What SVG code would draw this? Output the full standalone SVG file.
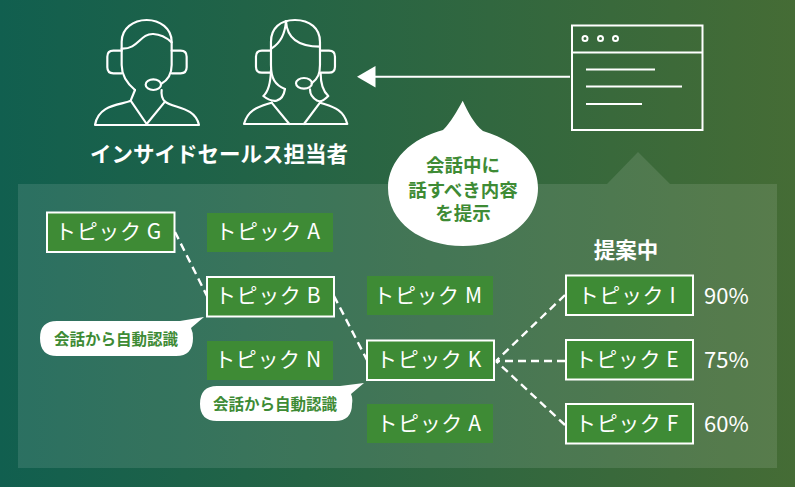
<svg xmlns="http://www.w3.org/2000/svg" width="795" height="487" viewBox="0 0 795 487">
<style>
text{font-family:"Noto Sans CJK JP","Noto Sans",sans-serif}
.ic{fill:none;stroke:#fff;stroke-width:6.500;stroke-linejoin:round;stroke-linecap:round}
.ln{fill:none;stroke:#fff;stroke-width:2}
.t{fill:#3e8b35}
.s{fill:#3e8b35;stroke:#fff;stroke-width:2}
.tl{fill:#fff;font-size:21px;text-anchor:middle;letter-spacing:.6px}
.p{fill:#fff;font-size:22px}
.g{fill:#3e8b35;font-weight:700;text-anchor:middle}
.d{fill:none;stroke:#fff;stroke-width:2.400;stroke-dasharray:8 5}
</style>
<defs>
<linearGradient id="bg" x1="0" y1="0" x2="1" y2="0"><stop offset="0" stop-color="#115f4f"/><stop offset="1" stop-color="#456c35"/></linearGradient>
</defs>
<rect width="795" height="487" fill="url(#bg)"/>
<path d="M18 184H607L638 152L670 184H777V468H18Z" fill="#fff" fill-opacity=".11"/>

<g id="agent-male" transform="translate(80 10) scale(.3333)" class="ic">
<path d="M165 240C135 215 125 190 125 165V95C125 55 160 30 200 30C240 30 275 55 275 95V165C275 190 265 210 243 222"/>
<path d="M125 116C175 118 180 70 220 72C245 73 262 85 275 97"/>
<path d="M125 122H100Q82 122 82 140V172Q82 190 100 190H125M275 122H302Q320 122 320 140V172Q320 190 302 190H275"/>
<ellipse cx="220" cy="224" rx="23" ry="16"/>
<path d="M165 240L152 272C130 285 55 280 45 345H357C345 290 280 295 255 275C245 265 243 255 245 240"/>
<path d="M152 272L200 342L255 275"/>
</g>
<g id="agent-female" transform="translate(80 10) scale(.3333)" class="ic">
<path d="M615 237C585 225 573 205 573 165V95C573 55 600 30 645 30C690 30 720 55 720 95V165C720 190 715 205 695 220"/>
<path d="M618 33C620 70 640 110 720 110M618 33C615 75 600 100 575 115"/>
<path d="M573 122H546Q528 122 528 140V170Q528 188 546 188H573M720 122H747Q765 122 765 140V170Q765 188 747 188H720"/>
<ellipse cx="672" cy="220" rx="24" ry="16"/>
<path d="M573 180C572 215 565 245 550 258C565 270 575 275 590 272C605 268 612 255 615 237M722 190C722 225 730 245 745 258C735 268 722 278 712 272C698 265 690 255 690 238"/>
<path d="M575 278C540 290 505 295 492 342H802C790 295 755 290 720 278"/>
<path d="M575 278L628 342M720 278L672 342"/>
</g>
<text id="title" x="219" y="162" fill="#fff" font-size="21.500" font-weight="700" text-anchor="middle">インサイドセールス担当者</text>

<g id="browser">
<rect x="572" y="25.500" width="130.500" height="104.500" class="ln"/>
<path d="M572 52.500H702.500" class="ln"/>
<circle cx="585" cy="38.500" r="2.500" class="ln"/><circle cx="600.500" cy="38.500" r="2.500" class="ln"/><circle cx="615.500" cy="38.500" r="2.500" class="ln"/>
<path d="M586 69.500H655M586 86.500H682M586 104H642" class="ln"/>
</g>

<g id="bubble">
<path d="M462.700 100.700C468 112 474 124 483 131C515 141 538 160 538 188C538 222 505 246 463 246C421 246 388 222 388 188C388 160 412 138 443 130C451 122 457 111 462.700 100.700Z" fill="#fff"/>
<text class="g" x="463" y="172" font-size="18.500">会話中に</text>
<text class="g" x="463" y="196.500" font-size="18.500">話すべき内容</text>
<text class="g" x="463" y="220" font-size="18.500">を提示</text>
</g>

<g id="connectors">
<path class="ln" d="M570 76.700H374"/>
<path d="M357 76.700L375.500 66V87.500Z" fill="#fff"/>
<path class="d" d="M175 232L207 296"/>
<path class="d" d="M334 296L367 360"/>
<path class="d" d="M565 295L496 361"/>
<path class="d" d="M565 361H496"/>
<path class="d" d="M565 425L496 361"/>
</g>

<g id="topic-g"><rect class="s" x="47" y="212.500" width="127.500" height="39.500"/><text class="tl" x="108.500" y="239">トピック G</text></g>
<g id="topic-a1"><rect class="t" x="207" y="213" width="126" height="39"/><text class="tl" x="268" y="239">トピック A</text></g>
<g id="topic-b"><rect class="s" x="207" y="277" width="127" height="39.500"/><text class="tl" x="268" y="303">トピック B</text></g>
<g id="topic-m"><rect class="t" x="367" y="276" width="126" height="39"/><text class="tl" x="428" y="303">トピック M</text></g>
<g id="topic-n"><rect class="t" x="207" y="341" width="126" height="39"/><text class="tl" x="268" y="367">トピック N</text></g>
<g id="topic-k"><rect class="s" x="367" y="340.500" width="127" height="39.500"/><text class="tl" x="429" y="367">トピック K</text></g>
<g id="topic-a2"><rect class="t" x="367" y="404" width="126" height="39"/><text class="tl" x="429" y="431">トピック A</text></g>
<text id="proposal-label" x="626" y="258" fill="#fff" font-size="21.500" font-weight="700" text-anchor="middle">提案中</text>
<g id="topic-i"><rect class="s" x="566" y="275.500" width="127" height="39.500"/><text class="tl" x="627" y="303">トピック I</text><text class="p" x="704" y="304">90%</text></g>
<g id="topic-e"><rect class="s" x="566" y="340" width="127" height="39.500"/><text class="tl" x="627" y="367">トピック E</text><text class="p" x="704" y="368">75%</text></g>
<g id="topic-f"><rect class="s" x="566" y="404" width="127" height="39.500"/><text class="tl" x="627" y="431">トピック F</text><text class="p" x="704" y="432">60%</text></g>

<g id="callout-1">
<path d="M57 321H180L204 317L191 328Q193 332 193 338Q193 356 176 356H57Q40 356 40 338Q40 321 57 321Z" fill="#fff"/>
<text class="g" x="116" y="345" font-size="15.500">会話から自動認識</text>
</g>
<g id="callout-2">
<path d="M217 386H340L364 383L351 394Q353 398 352 404Q352 421 335 421H217Q200 421 200 404Q200 386 217 386Z" fill="#fff"/>
<text class="g" x="275" y="410" font-size="15.500">会話から自動認識</text>
</g>
</svg>
